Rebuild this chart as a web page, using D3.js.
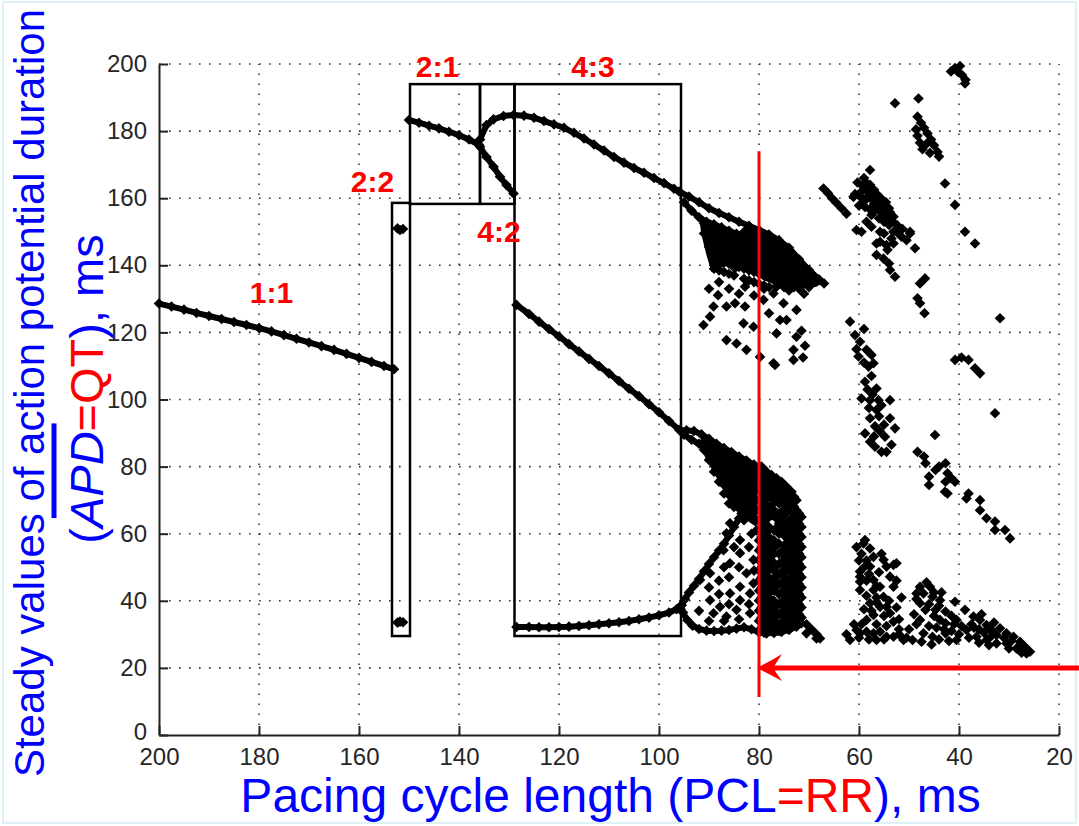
<!DOCTYPE html>
<html>
<head>
<meta charset="utf-8">
<script src="https://cdn.jsdelivr.net/npm/d3@7"></script>
<style>
body { margin: 0; background: #fff; }
svg { display: block; font-family: "Liberation Sans", Arial, sans-serif; }
</style>
</head>
<body>
<div id="chart"></div>
<script>
// axis ticks
var xTicks = [200, 180, 160, 140, 120, 100, 80, 60, 40, 20];
var yTicks = [0, 20, 40, 60, 80, 100, 120, 140, 160, 180, 200];

// continuous branches [PCL, APD]
var branch11 = [[200,128.6],[197.5,127.7],[195,126.8],[192.5,125.8],[190,124.9],[187.5,124.0],[185,123.1],[182.5,122.2],[180,121.3],[177.5,120.3],[175,119.2],[172.5,118.1],[170,117.0],[167.5,115.9],[165,114.8],[162.5,113.6],[160,112.4],[157.5,111.2],[155,110.0],[153,109.0]];
var branch22 = [[152.3,151],[151.8,150.5],[151.2,150.8],[152.3,33.5],[151.8,33.8],[151.2,33.6]];
var branch21 = [[150,183.3],[148,182.5],[146,181.6],[144,180.8],[142,179.8],[140,178.8],[138,177.5],[136,175.9]];
var branch42up = [[135.8,177.5],[134.5,181.8],[133.1,183.5],[131.1,184.5],[129.1,184.8]];
var branch42low = [[135.8,175.3],[134.5,172.3],[133.1,169.4],[131.8,166.4],[130.5,163.9],[129.1,161.4]];
var branch43up = [[129,184.8],[127,184.6],[125,184],[123,183],[121,182],[119,181],[117,179.5],[115,177.8],[113,176],[111,174.2],[109,172.3],[107,170.6],[105,169],[103,167.6],[101,166],[99,164.5],[97,162.8],[96,162],[94,160.5],[92,158.8],[90,157],[88,155.6],[86,154.3],[84,153],[82,151.8],[80,150.5],[78,149.2],[76,147.5],[74,145.2],[72,141.8],[70,138.6],[68,135.8],[67,134.6]];
var branch43upGhost = [[95,158.8],[93.5,156.3],[92,154.3],[90.5,153],[89,152.2],[87.5,151.3],[86,150.3],[84.5,149.4]];
var branch43mid = [[128.5,128.2],[126,125.5],[124,123.2],[122,121],[120,118.8],[118,116.5],[116,114.3],[114,112.1],[112,110],[110,107.8],[108,105.5],[106,103.2],[104,101],[102,98.6],[100,96.2],[98,93.6],[96,91],[94.5,90.8],[93,90.6],[91.5,89.6],[90,88.3],[88.5,86.8],[87,85.5],[85.5,84.3],[84,83],[82.5,81.8],[81,80.6]];
var branch43midGhost = [[95,89.5],[93.5,88],[92,86.8],[90.5,85.5],[89,84.3],[87.8,83.5]];
var branch43low = [[128.5,32.2],[126,32.2],[124,32.1],[122,32.1],[120,32.2],[118,32.3],[116,32.5],[114,32.7],[112,33],[110,33.3],[108,33.6],[106,34],[104,34.5],[102,35],[100,35.7],[98,36.5],[96.5,37.5],[95.5,38.7],[94.8,40.5],[94,42.5],[93,44.5],[92,46.5],[91,48.8],[90,51],[89,53],[88,55],[87,57],[86,59.5],[85,62],[84,64.5],[83.5,66]];
var branch43bottom = [[95.5,38.7],[95.2,36.5],[94.3,34.2],[93.3,32.6],[92,31.6],[90.5,31.1],[89,31],[87.5,31.1],[86,31.3],[84.5,31.7],[83,32.1],[81.5,31.5],[80,30.6],[78.5,30.3],[77,30.4],[75.5,30.7],[74,31.3],[72.5,32.3],[71.5,33.3]];

// solid black cores of the chaotic region near PCL 80 (outline)
var upperCore = [[92,154.3],[90.5,153],[89,152.2],[87.5,151.3],[86,150.3],[84.5,149.4],[83,151.5],[80,150.5],[76,147.5],[72,141.8],[68,135.8],[67.5,134.6],[68.5,133.6],[72,133],[76,134],[79,135.5],[82,138.5],[84,140.5],[86,140],[88,139],[89.5,138],[90.5,143],[91.5,149]];
var lowerCore = [[92,86.5],[90.5,85.3],[89,84.2],[87.8,83.5],[85.5,84],[82.5,81.8],[80.5,80.3],[80.5,62],[82,63.5],[83.5,66],[84.5,68],[86,70.5],[87.5,74],[89,78],[90.5,82]];

// chaotic region near PCL 80: columns of APD values
var upperCloudPcl = [91, 90, 89, 88, 87, 86, 85, 84, 83, 82, 81, 80, 79, 78, 77, 76, 75, 74, 73, 72, 71, 70, 69];
var upperCloudApd = [
  [152.5,149.5],[151.5,148.5,145.5],[151,148,145,142,139],[150.5,147.5,144.5,141.5,138.5],
  [150,144,141,138],[149.5,146.5,140.5,137.5],[149,146,140,137],[148.5,145.5,142.5,139.5],
  [148,145,142,139,136],[147.5,144.5,141.5,138.5,135.5],[147,144,141,138,135],[146.5,143.5,140.5,137.5,134.5],
  [146,143,140,137,134],[145.5,142.5,139.5,136.5,133.5],[144.5,141.5,138.5,135.5],[143.5,140.5,137.5,134.5],
  [142,139,136,133.5],[141,138,135,132.5],[139.5,136.5,133.5],[138,135.5,133],[137,134.5,131.5],[136.5,133.5],[135.5]
];
var upperCloudScatter = [[88.2,131.1],[89.1,127.7],[91.1,122.2],[89.8,124.7],[86.5,127.7],[84.8,128.7],[82.8,133.6],[82.8,127.7],[84.8,139.1],[82.5,140.6],[80.5,138.6],[79.1,129.7],[77.1,131.6],[75.1,128.7],[74.5,123.7],[72.5,126.7],[75.8,123.7],[72.5,118.7],[76.5,119.7],[86.5,117.7],[84.5,116.7],[82.5,114.8],[83.1,122.7],[77.1,110.8],[73.1,114.8],[73.1,111.8],[79.8,112.7],[81.1,121.7],[78,125.7],[76.5,133.6],[76.8,110.3],[71.5,120.5],[70.8,116],[71.2,112.5],[90,133],[88,135],[86,133],[84,131.5],[81,131],[79,133]];

var lowerCloudPcl = [91, 90, 89, 88, 87, 86, 85, 84, 83, 82, 81, 80.5, 80, 79.5, 79, 78.5, 78, 77.5, 77, 76.5, 76, 75.5, 75, 74.5, 74, 73.5, 73, 72.5, 72, 71.5];
var lowerCloudApd = [
  [87.5,85],[87,84.5,82],[86,83.5,81,78.5],[85.5,83,80.5,78,75.5],[84.5,82,79.5,77,74.5,72],
  [84,81.5,79,76.5,74,71.5,69],[83,80.5,78,75.5,73,70.5,68],[82.5,80,77.5,75,72.5,70,67.5],
  [81.5,79,76.5,74,71.5,69,66.5,64],[81,78.5,76,73.5,71,68.5,66],[80,77.5,75,72.5,70,67.5],
  [79,76,73,70,67,64,61],
  [79,76,73,70,67,64,61,58,55,52,49,46,43,40,37,34,31],
  [80,77,74,71,68,65,62,59,56,53,50,47,44,41,38,35,32],
  [78.5,75.5,72.5,69.5,63.5,57,54,51,48,45,42,39,36,33,30.5],
  [78.5,75.5,72.5,66.5,60.5,57.5,54.5,51.5,48.5,45.5,42.5,39.5,36.5,33.5],
  [77,74,71,68,65,62,59,56,53,50,47,44,41,38,35,32],
  [77.5,74.5,71.5,68.5,65.5,58,55,52,46,43,40,37,34,31],
  [76,73,70,67,61,58,54,49,46,43,40,37,34,31.5],
  [76.5,73.5,70.5,64.5,61.5,56.5,50.5,47.5,44.5,38.5,35.5,32.5],
  [75,72,69,66,63,60,57,54,51,48,45,42,39,36,33,31],
  [75.5,72.5,69.5,66.5,63.5,60.5,54.5,51.5,48.5,45.5,42.5,39.5,36.5,33.5],
  [74.5,71.5,65.5,62.5,59.5,56.5,53.5,50.5,47.5,44.5,41.5,38.5,35.5,32.5],
  [74,71,68,62,59,56,53,50,44,41,38,35,32],
  [73,70,67,64,61,58,55,52,49,46,43,40,37,34,31.5],
  [72.5,69.5,66.5,63.5,60.5,57.5,54.5,51.5,48.5,45.5,42.5,39.5,36.5,33.5],
  [71,68,65,62,59,56,53,50,47,44,41,38,35,32.5],
  [70,67,64,61,58,55,52,49,46,43,40,37,34],
  [66,63,60,57,54,51,48,45,42,39,36,33.5],
  [65,62,59,56,53,50,47,44,41,38,35]
];
var lowerCloudScatter = [[85.8,63.1],[83.8,58.1],[87.1,55.1],[83.8,54.2],[85.8,51.2],[89.8,48.2],[83.8,44.2],[81.8,42.2],[85.8,42.2],[87.8,38.2],[83.8,40.2],[81.8,36.3],[89.8,40.2],[91.8,46.2],[81.1,45.2],[86.5,35.3],[89.1,36.3],[84.5,37.3],[82.5,48.2],[81.1,52.2],[86.5,60.1],[70.5,33],[69.5,31.5],[68.5,30],[67.8,28.8],[70.5,30.3],[68.5,28.8],
  [88,46],[86,47],[84,50],[82,56],[85,56],[87,50],[90,44],[88,42],[86,39],[82,39],[84,34.5],[87,34],[90,34],[92,37],[81.5,60],[81,49]];

// chaotic region PCL 68..25
var farScatter = [
  [40.8,198.8],[40.2,197.6],[39.4,196.7],[38.7,195.3],[41.6,197.8],[39.8,199.4],[38.8,194.2],
  [52.8,188.3],[48.1,189.7],
  [48.3,184.3],[47.6,182.5],[47,181],[46.3,179.3],[45.6,177.5],[45,175.8],[44.3,173.8],[44,172.4],[48.3,178.6],[47.8,176.5],[47.3,174.6],[46.5,176.2],[45.8,173.5],[48.6,180.5],
  [42.8,164.4],[40.8,158],[38.8,150],[36.8,146.5],
  [57.8,168.4],
  [67.1,162.9],[66.2,161.5],[65.4,160],[64.5,158.6],[63.5,157],[62.5,155.4],[61.1,160.4],
  [60.3,164.7],[59.3,163.7],[58.5,162.5],[57.8,164],[60.8,161.2],[59.8,160.5],[58.6,160],[57.5,159.8],[56.5,161.3],[55.6,160],[54.6,158.8],[60,157.8],[58.8,157.4],[57.8,156.6],[56.6,156.5],[55.5,155.8],[54.4,154.5],[53.4,153.2],[52.4,152],[51.3,150.8],[59,166],[58,161.5],[57,158.3],[56,157.8],[55,157],[53.8,155.8],
  [59.5,162],[58.5,164.5],[57,162.5],[56,159.5],[55,158.5],[54,157],[59,159],[57.5,155],[56,154],[55,153],[54,152],[52.5,150],[51.5,148.5],[57.5,151.5],[58.5,153],[55,149.5],[53.5,148],[50.5,147.5],[56.5,146.5],[54.5,146],
  [60.5,150.5],[59.5,150],[55.8,150],[55.8,147],[53.1,146.5],[54.3,144.6],[56.5,143.1],[53.1,150],[49.8,150],[48.8,145.1],[53.8,138.6],[52.8,136.6],[53.1,154.5],[49.8,149.5],[55.1,142],[54,140.5],
  [47.8,134.6],[46.8,136.1],[48.3,130.2],[46.9,125.7],[47.8,128.7],
  [61.8,123.2],[60.8,119.2],[59.8,117.2],[60.1,112.8],[58.5,114.8],[57.5,113.3],[57.1,110.8],[58.1,109.8],
  [58.8,105.3],[56.5,103.3],[59.5,100.3],[57.8,99.8],[56.1,99.8],[53.8,99.8],[56.5,96.9],[57.8,94.4],[53.8,94.4],[52.8,91.4],[54.8,88.9],[58.8,89.9],[57.8,87.4],[56.8,85.9],[55.5,84.4],[54.5,84.4],[58.3,103],[57.3,101.5],[55.5,98.3],[56.8,92],[55.8,90.5],
  [59,121],[60.5,115],[59,111],[57.5,107],[58,97.5],[56,95],[55,92.5],[57,89],[53.5,86.5],
  [31.8,124.2],
  [40.8,111.8],[38.1,111.8],[36.8,109.3],[35.8,107.8],[39.5,112.5],
  [32.8,95.9],[44.8,89.4],
  [48.3,84.4],[47,83],[46.7,81],[44.7,79],[46,77],[46,74.5],[42.7,81],[42.3,78],[42.7,75.5],[40.8,75.5],[42.8,72.5],[42.3,72],[38.1,72],[38.5,70.5],[35.8,70],[35.8,67],[34.5,64.6],[32.8,63.6],[32.8,61.1],[30.8,61.1],[29.8,58.6],[44,80],[41.5,76.5],
  [58.8,58.1],[57.8,55.6],[57.1,53.1],[55.1,52.2],[53.1,50.7],[57.8,50.2],[59.8,48.7],[59.8,45.7],[59.8,43.2],[57.1,46.2],[53.8,47.2],[53.1,44.2],[57.1,43.2],[55.1,41.2],[57.8,39.3],[55.8,38.2],[53.8,36.3],[53.1,33.8],[57.1,35.8],[58.5,34.3],[60.5,31.3],[61.8,28.3],[58.5,30.8],[55.8,30.8],[53.1,29.3],[56.5,28.3],
  [59.1,57.1],[54.5,50.2],[52.5,51.2],[59.8,47.2],[55.8,44.2],[54.5,38.2],[59.8,30.3],[54.5,29.3],[57.1,30.3],[51.1,28.3],
  [60.5,56],[59.5,54],[58.5,52],[60,52],[59,50],[58,48],[56,48.5],[58.5,46],[56.5,44.5],[58.5,41.5],[56.5,41],[59,37.5],[56.5,39.5],[54,40],[57.5,37],[55,35.5],[56.5,33],[54.5,32.5],[59.5,33],[61,33],[62.5,30],[60,29],[58,28.5],[55,28.5],[52,31.5],[52,34.5],[52.5,38],[51.5,41],[52.5,46],[55.5,54],
  [47.8,44.2],[45.8,44.2],[47.1,42.2],[45.3,41.2],[47.8,39.3],[46.7,37.3],[44.7,37.3],[42.7,36.8],[47.8,34.3],[43.8,34.3],[43.8,40.2],[48.5,42.2],[42.7,33.3],
  [49,36],[48.5,33],[46,32.5],[44.5,32],[43,31.5],[41.5,31],[45,35.5],[46,39],[44,38.5],[41.5,35.5],[48.5,40.5],[46.5,45.5],[45,42.5],[43.5,42.5],[50,31.5],[47.5,27.8],[45.5,27],[44,28.5],[42,28],[40,30],[39.5,32.5],[41,33],
  [49.3,28.3],[47.1,30.3],[45.3,29.3],[42.7,30.3],[40.5,28.3],[52,30],[50.5,29],
  [40.8,39.7],[38.8,37.3],[37.1,35.3],[35.8,34.3],[34.5,32.8],[33.5,31.3],[31.8,31.8],[30.5,30.3],[29.1,29.3],[27.8,27.8],[26.8,26.3],[25.8,24.8],
  [38.5,31.3],[36.5,29.3],[34.5,28.3],[32.5,27.3],[30.5,27.3],[28.5,25.8],[26.5,24.3],[32.5,29.8],[40.5,34.3],
  [37.5,33],[36,31.5],[35,30.5],[33.5,29.5],[31,29],[29.5,28],[28,26.5],[27,25],[36,27.5],[34,26.8],[30,25.8],[27.5,24.5],[38,29],[37,32],[35.5,36],[33,33.5]
];

// boxes around locking regimes [pclLeft, pclRight, apdBottom, apdTop]
var boxes = [[153.4,149.8,29.5,158.6],[149.8,135.8,158.3,194],[135.8,128.9,158.3,194],[128.9,95.6,29.5,194]];
var ratioLabels = ["1:1", "2:2", "2:1", "4:3", "4:2"];
var ratioPcl = [177.5, 157.3, 144.3, 113.2, 132];
var ratioApd = [128.8, 161.9, 196.1, 196.1, 147];

// red marker line and arrow
var markPcl = 80, markApdFrom = 11.3, markApdTo = 174;
var arrowApd = 20, arrowFrom = 16, arrowTip = 80.4;

var W = 1079, H = 826;
var svg = d3.select("#chart").append("svg").attr("width", W).attr("height", H);

svg.append("rect").attr("x", 3).attr("y", 2).attr("width", 1073).attr("height", 821)
    .attr("fill", "#fff").attr("stroke", "#d3edf5").attr("stroke-width", 1.5);

var x = d3.scaleLinear().domain([200, 20]).range([159, 1059]);
var y = d3.scaleLinear().domain([0, 200]).range([735, 64]);

// grid
var grid = svg.append("g").attr("stroke", "#333").attr("stroke-width", 1.6).attr("stroke-dasharray", "1.6,8.4");
grid.selectAll(".gx").data(xTicks.slice(1)).enter().append("line")
    .attr("x1", function(d) { return x(d); }).attr("x2", function(d) { return x(d); })
    .attr("y1", y(0)).attr("y2", y(200));
grid.selectAll(".gy").data(yTicks.slice(1)).enter().append("line")
    .attr("y1", function(d) { return y(d); }).attr("y2", function(d) { return y(d); })
    .attr("x1", x(200)).attr("x2", x(20));

// axes
var xAxis = svg.append("g").attr("transform", "translate(0," + y(0) + ")")
    .call(d3.axisBottom(x).tickValues(xTicks).tickSize(-9).tickPadding(13).tickSizeOuter(0));
var yAxis = svg.append("g").attr("transform", "translate(" + x(200) + ",0)")
    .call(d3.axisLeft(y).tickValues(yTicks).tickSize(-9).tickPadding(12).tickSizeOuter(0));
[xAxis, yAxis].forEach(function(a) {
    a.select(".domain").attr("stroke", "#222").attr("stroke-width", 2);
    a.selectAll(".tick line").attr("stroke", "#222").attr("stroke-width", 2);
    a.selectAll(".tick text").attr("fill", "#262626").style("font-size", "24px")
        .style("font-family", "'Liberation Sans', Arial, sans-serif");
});
// the "0" label sits a little above the x labels
yAxis.selectAll(".tick text").filter(function(d) { return d === 0; }).attr("dy", "0.2em");

// boxes
svg.append("g").selectAll("rect").data(boxes).enter().append("rect")
    .attr("x", function(d) { return x(d[0]); })
    .attr("y", function(d) { return y(d[3]); })
    .attr("width", function(d) { return x(d[1]) - x(d[0]); })
    .attr("height", function(d) { return y(d[2]) - y(d[3]); })
    .attr("fill", "none").attr("stroke", "#000").attr("stroke-width", 2.5);

// points
var line = d3.line().x(function(d) { return x(d[0]); }).y(function(d) { return y(d[1]); });
svg.append("g").selectAll("path").data([upperCore, lowerCore]).enter().append("path")
    .attr("d", function(d) { return line(d) + "Z"; }).attr("fill", "#000");

var lines = [branch11, branch21, branch42up, branch42low, branch43up, branch43upGhost, branch43mid, branch43midGhost, branch43low, branch43bottom];
svg.append("g").selectAll("path").data(lines).enter().append("path")
    .attr("d", line).attr("fill", "none").attr("stroke", "#000").attr("stroke-width", 6);

var pts = [];
lines.forEach(function(l) { pts = pts.concat(l); });
pts = pts.concat(branch22, upperCloudScatter, lowerCloudScatter, farScatter);
upperCloudPcl.forEach(function(p, i) { upperCloudApd[i].forEach(function(a) { pts.push([p, a]); }); });
lowerCloudPcl.forEach(function(p, i) { lowerCloudApd[i].forEach(function(a) { pts.push([p, a]); }); });

svg.append("g").selectAll("path").data(pts).enter().append("path")
    .attr("d", "M0,-5.3L5.3,0L0,5.3L-5.3,0Z")
    .attr("transform", function(d) { return "translate(" + x(d[0]) + "," + y(d[1]) + ")"; })
    .attr("fill", "#000");

// ratio labels
svg.append("g").selectAll("text").data(ratioLabels).enter().append("text")
    .attr("x", function(d, i) { return x(ratioPcl[i]); })
    .attr("y", function(d, i) { return y(ratioApd[i]); })
    .attr("text-anchor", "middle").attr("fill", "#ff0000")
    .style("font-size", "30px").style("font-weight", "bold")
    .text(function(d) { return d; });

// red marker
svg.append("line").attr("x1", x(markPcl)).attr("x2", x(markPcl))
    .attr("y1", y(markApdTo)).attr("y2", y(markApdFrom))
    .attr("stroke", "#ff0000").attr("stroke-width", 3);
svg.append("line").attr("x1", x(arrowFrom)).attr("x2", x(arrowTip) + 14)
    .attr("y1", y(arrowApd)).attr("y2", y(arrowApd))
    .attr("stroke", "#ff0000").attr("stroke-width", 5);
svg.append("path")
    .attr("transform", "translate(" + x(arrowTip) + "," + y(arrowApd) + ")")
    .attr("d", "M0,0Q12,-6 25,-14L16,0L25,13Q12,6 0,0Z")
    .attr("fill", "#ff0000");

// axis titles
var xt = svg.append("text").attr("x", 610.5).attr("y", 812).attr("text-anchor", "middle")
    .style("font-size", "48px").attr("fill", "#0000ff");
xt.append("tspan").text("Pacing cycle length (PCL");
xt.append("tspan").attr("fill", "#ff0000").text("=RR");
xt.append("tspan").text("), ms");

svg.append("text").attr("transform", "translate(43.5,393) rotate(-90)")
    .attr("text-anchor", "middle").style("font-size", "42px").attr("fill", "#0000ff")
    .text("Steady values of action potential duration");

var yt = svg.append("text").attr("transform", "translate(103,389) rotate(-90)")
    .attr("text-anchor", "middle").style("font-size", "47px").attr("fill", "#0000ff");
yt.append("tspan").text("(");
yt.append("tspan").style("font-style", "italic").text("APD");
yt.append("tspan").attr("fill", "#ff0000").text("=QT");
yt.append("tspan").text("), ms");

// overline on APD
var node = yt.node();
var s0 = node.getStartPositionOfChar(1).x;
var len = node.getSubStringLength(1, 3);
d3.select(node.parentNode).append("line")
    .attr("transform", "translate(103,389) rotate(-90)")
    .attr("x1", s0 + 10).attr("x2", s0 + len + 8)
    .attr("y1", -49).attr("y2", -49)
    .attr("stroke", "#0000ff").attr("stroke-width", 5);
</script>
</body>
</html>
